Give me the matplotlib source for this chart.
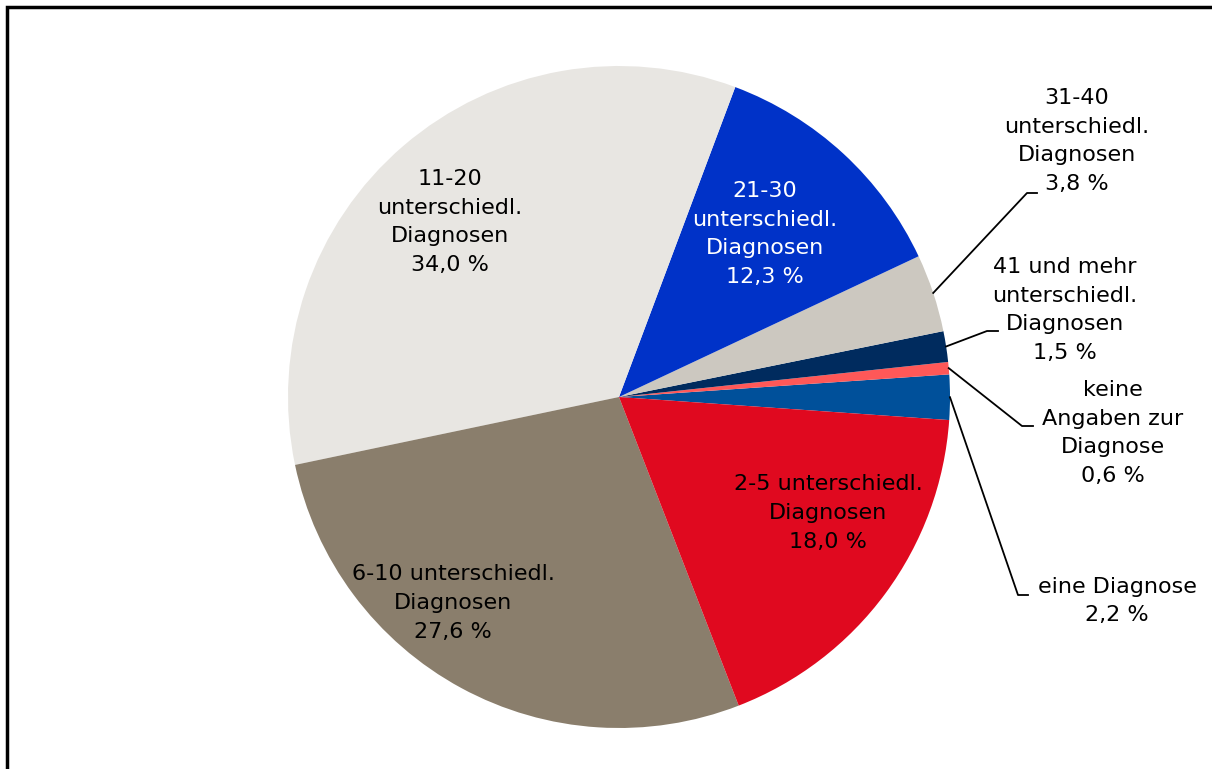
import numpy as np
import matplotlib.pyplot as plt
from matplotlib.patches import Rectangle

# Anteile (Prozent), gegen den Uhrzeigersinn ab "eine Diagnose"
kategorien = ["eine Diagnose", "keine Angaben zur Diagnose",
              "41 und mehr unterschiedl. Diagnosen", "31-40 unterschiedl. Diagnosen",
              "21-30 unterschiedl. Diagnosen", "11-20 unterschiedl. Diagnosen",
              "6-10 unterschiedl. Diagnosen", "2-5 unterschiedl. Diagnosen"]
anteile = [2.2, 0.6, 1.5, 3.8, 12.3, 34.0, 27.6, 18.0]
farben = ["#00509A", "#FF5858", "#002B5E", "#CCC8C0",
          "#0032C8", "#E8E6E2", "#8A7E6C", "#E0091F"]

texte = ["eine Diagnose\n2,2 %",
         "keine\nAngaben zur\nDiagnose\n0,6 %",
         "41 und mehr\nunterschiedl.\nDiagnosen\n1,5 %",
         "31-40\nunterschiedl.\nDiagnosen\n3,8 %",
         "21-30\nunterschiedl.\nDiagnosen\n12,3 %",
         "11-20\nunterschiedl.\nDiagnosen\n34,0 %",
         "6-10 unterschiedl.\nDiagnosen\n27,6 %",
         "2-5 unterschiedl.\nDiagnosen\n18,0 %"]
textfarben = ["black", "black", "black", "black", "white", "black", "black", "black"]

W, H = 1212, 769
fig = plt.figure(figsize=(W / 100, H / 100), dpi=100)
ax = fig.add_axes([0, 0, 1, 1])

cx, cy, r = 619, H - 397, 331
wedges, _ = ax.pie(anteile, colors=farben, startangle=-4, counterclock=True,
                   center=(cx, cy), radius=r, frame=True,
                   wedgeprops=dict(linewidth=0))
ax.set_xlim(0, W)
ax.set_ylim(0, H)
ax.set_aspect("equal")
ax.axis("off")

# Rahmen
ax.add_patch(Rectangle((7, -20), W + 20, H - 7 + 20, fill=False,
                       edgecolor="black", linewidth=2.5, clip_on=False))

fs = 16
ls = 1.55
# Beschriftungen innen (Textpositionen in Pixeln)
innen = {4: (765, 234), 5: (450, 222), 6: (453, 603), 7: (828, 513)}
for i, (x, y) in innen.items():
    ax.text(x, H - y, texte[i], ha="center", va="center", fontsize=fs,
            color=textfarben[i], linespacing=ls)

# Beschriftungen außen mit Führungslinien
aussen = {3: ((1077, 141), (1027, 193), (1037, 193)),
          2: ((1065, 310), (987, 331), (998, 331)),
          1: ((1113, 433), (1022, 426), (1033, 426)),
          0: ((1117, 601), (1018, 595), (1028, 595))}
for i, ((tx, ty), (kx, ky), (ex, ey)) in aussen.items():
    w = wedges[i]
    mitte = np.deg2rad((w.theta1 + w.theta2) / 2)
    sx, sy = cx + r * np.cos(mitte), cy + r * np.sin(mitte)
    ax.plot([sx, kx, ex], [sy, H - ky, H - ey], color="black", linewidth=1.3)
    ax.text(tx, H - ty, texte[i], ha="center", va="center", fontsize=fs,
            color="black", linespacing=ls)

plt.savefig("out.png", dpi=100)
plt.close()
